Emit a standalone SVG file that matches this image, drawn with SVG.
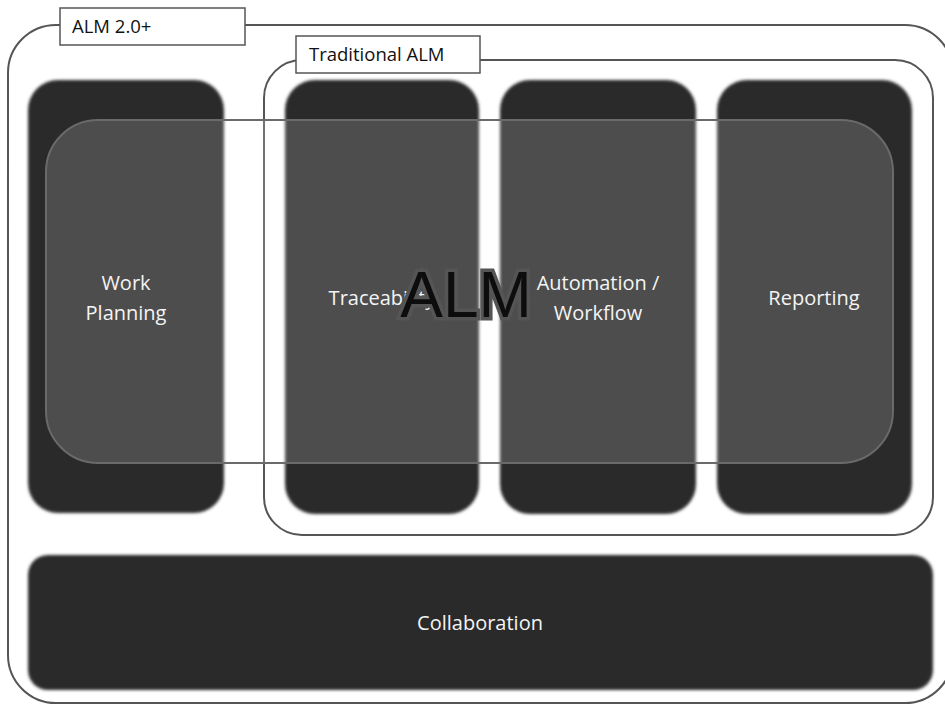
<svg xmlns="http://www.w3.org/2000/svg" width="945" height="708" viewBox="0 0 945 708">
  <defs>
    <filter id="soft" x="-5%" y="-5%" width="110%" height="110%">
      <feGaussianBlur stdDeviation="1.6"/>
    </filter>
    <style>
      .frame { fill: none; stroke: #555; stroke-width: 2; }
      .label { fill: #fff; stroke: #555; stroke-width: 1.5; }
      .labeltxt { font-family: "Open Sans", "Noto Sans", "Liberation Sans", sans-serif; font-size: 18.5px; fill: #111; }
      .col { fill: #2b2b2b; filter: url(#soft); }
      .overlay { fill: #fff; fill-opacity: 0.17; stroke: #6a6a6a; stroke-width: 2; }
      .txt { font-family: "Open Sans", "Noto Sans", "Liberation Sans", sans-serif; font-size: 20px; fill: #f4f4f4; text-anchor: middle; }
      .big { font-family: "Liberation Sans", Arial, sans-serif; font-size: 64px; fill: #0d0d0d; text-anchor: middle; }
    </style>
  </defs>
  <rect width="945" height="708" fill="#fff"/>

  <g id="alm20">
    <rect class="frame" x="8" y="25" width="945" height="678" rx="48" ry="48"/>
  </g>
  <g id="traditional">
    <rect class="frame" x="264" y="60" width="669" height="475" rx="38" ry="38"/>
  </g>

  <g id="work-planning">
    <rect class="col" x="28" y="80" width="196" height="433" rx="30" ry="30"/>
  </g>
  <g id="traceability">
    <rect class="col" x="285" y="80" width="194" height="434" rx="30" ry="30"/>
  </g>
  <g id="automation">
    <rect class="col" x="500" y="80" width="196" height="434" rx="30" ry="30"/>
  </g>
  <g id="reporting">
    <rect class="col" x="717" y="80" width="195" height="434" rx="30" ry="30"/>
  </g>
  <g id="collaboration">
    <rect class="col" x="28" y="555" width="905" height="135" rx="20" ry="20"/>
    <text class="txt" x="480" y="630">Collaboration</text>
  </g>

  <g id="alm">
    <rect class="overlay" x="46" y="120" width="847" height="343" rx="52" ry="52"/>
  </g>

  <g id="labels-text">
    <text class="txt" x="126" y="290">Work</text>
    <text class="txt" x="126" y="320">Planning</text>
    <text class="txt" x="382" y="305">Traceability</text>
    <text class="txt" x="598" y="290">Automation /</text>
    <text class="txt" x="598" y="320">Workflow</text>
    <text class="txt" x="814" y="305">Reporting</text>
    <text class="big" x="466" y="317" stroke="#555" stroke-width="7" paint-order="stroke">ALM</text>
  </g>

  <g id="alm20-label">
    <rect class="label" x="60" y="8" width="185" height="37"/>
    <text class="labeltxt" x="72" y="33">ALM 2.0+</text>
  </g>
  <g id="traditional-label">
    <rect class="label" x="296" y="36" width="184" height="37"/>
    <text class="labeltxt" x="309" y="61">Traditional ALM</text>
  </g>

  <g id="connectors"></g>
</svg>
